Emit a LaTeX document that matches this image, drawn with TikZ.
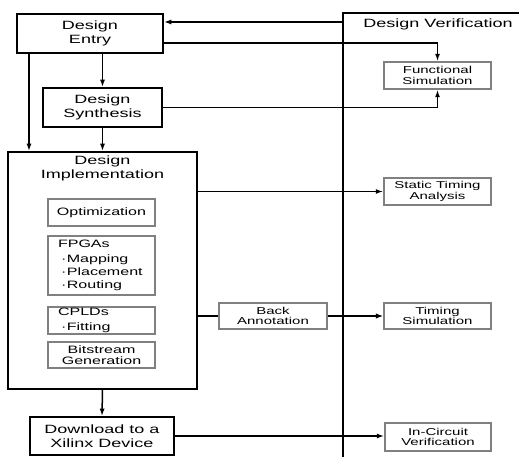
\documentclass[tikz,border=0pt]{standalone}
\usepackage{fontspec}
\setmainfont{Liberation Sans}[FakeStretch=1.5]
\usetikzlibrary{arrows.meta}
\newcommand\mainfnt{\fontsize{12}{13.5}\selectfont}
\newcommand\innerfnt{\fontsize{10.7}{13.3}\selectfont}
\newcommand\smallfnt{\fontsize{10}{10.5}\selectfont}
\newcommand\itm{\hspace*{3pt}·\hspace{0.5pt}}
\begin{document}
\begin{tikzpicture}[x=1pt,y=-1pt,
  mainbox/.style={draw=black,line width=1.6pt,align=center,font=\mainfnt,inner sep=0pt},
  graybox/.style={draw=black!50,line width=1.4pt,align=center,inner sep=0pt,minimum width=107pt},
  smallbox/.style={graybox,font=\smallfnt,minimum height=27pt},
  innerbox/.style={graybox,font=\innerfnt},
  conn/.style={line width=1.5pt},
  arr/.style={conn,-{Latex[length=7.5pt,width=5pt]}},
  thickconn/.style={line width=2.6pt}]
\useasboundingbox (0,0) rectangle (519,457);
% verification frame
\coordinate (vbot) at (343,457);
\coordinate (vtop) at (343,13);
\coordinate (vright) at (519,13);
\draw[conn] (vbot) -- (vtop) -- (vright);
\node[font=\mainfnt] (vtitle) at (438,24.5) {Design Verification};
% main boxes
\node[mainbox,minimum width=146pt,minimum height=39pt] (entry) at (90,33.5) {Design\\Entry};
\node[mainbox,minimum width=119pt,minimum height=39pt] (synth) at (102.5,107.5) {Design\\Synthesis};
\node[mainbox,minimum width=189pt,minimum height=237pt] (impl) at (102.5,270.5) {};
\node[font=\mainfnt,align=center,inner sep=0pt] (impltitle) at (102.5,168.5) {\fontsize{12}{11.5}\selectfont Design\\Implementation};
\node[innerbox,minimum height=27pt] (opt) at (101.5,212.5) {Optimization};
\node[innerbox,minimum height=59pt,align=left,text width=87pt,inner xsep=10pt] (fpga) at (101.5,265.5)
  {FPGAs\\[1.7pt]\itm Mapping\\\itm Placement\\\itm Routing};
\node[innerbox,minimum height=27pt,align=left,text width=87pt,inner xsep=10pt,inner ysep=1pt] (cpld) at (101.5,320.5)
  {CPLDs\\[1.7pt]\itm Fitting};
\node[innerbox,minimum height=26pt,font=\fontsize{10.7}{11.5}\selectfont] (bit) at (101.5,355) {Bitstream\\Generation};
\node[mainbox,minimum width=144pt,minimum height=38pt] (dl) at (102,436) {Download to a\\Xilinx Device};
% verification boxes
\node[smallbox] (func) at (437.5,75.5) {Functional\\Simulation};
\node[smallbox] (sta) at (437.5,191.5) {Static Timing\\Analysis};
\node[smallbox,minimum width=108pt,minimum height=26pt] (back) at (273,316) {Back\\Annotation};
\node[smallbox,minimum height=26pt] (tsim) at (437.5,316) {Timing\\Simulation};
\node[smallbox,minimum width=106pt,minimum height=28pt] (icv) at (438,437) {In-Circuit\\Verification};
% connectors
\coordinate (vin) at (343,22);
\draw[arr] (vin) -- (vin -| entry.east);
\draw[arr] ([yshift=-9.5pt]entry.east) -| (func.north);
\draw[arr] (synth.east) -| (func.south);
\draw[arr] (synth.north |- entry.south) -- (synth.north);
\draw[arr] ([xshift=-61pt]entry.south) -- ([xshift=-61pt]entry.south |- impl.north);
\draw[arr] (synth.south) -- (impl.north);
\draw[arr] (impl.east |- sta.west) -- (sta.west);
\draw[thickconn] (impl.east |- back.west) -- (back.west);
\draw[thickconn,-{Latex[length=7.5pt,width=5.5pt]}] (back.east) -- (tsim.west);
\draw[arr] (impl.south) -- (dl.north);
\draw[arr] (dl.east) -- (dl.east -| icv.west);
\end{tikzpicture}
\end{document}
